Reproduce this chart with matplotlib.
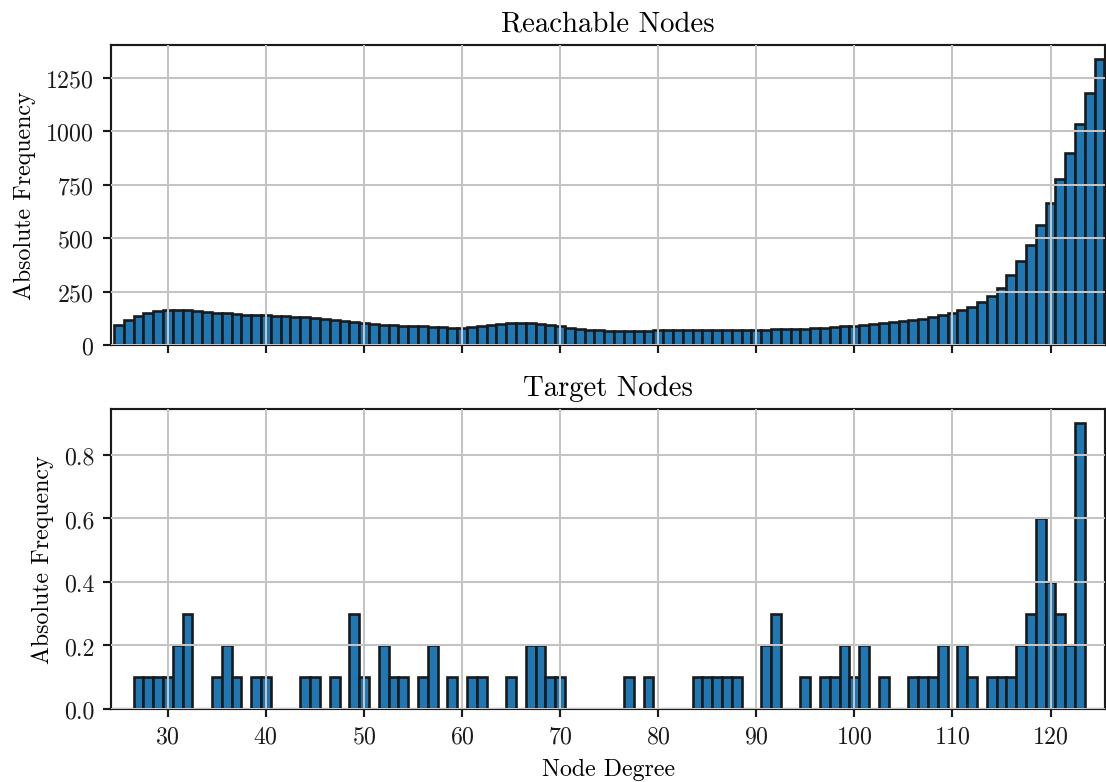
import numpy as np
import matplotlib
matplotlib.use("Agg")
import matplotlib.pyplot as plt

# ---- data ----
reach_degree = list(range(25, 126))
reach_freq = [
    92, 117, 137, 150, 158, 162, 164, 162, 159, 156,      # 25-34
    151, 148, 145, 142, 140, 139, 137, 134, 133, 130,     # 35-44
    125, 120, 116, 111, 106, 101, 98, 95, 94, 91,         # 45-54
    89, 87, 86, 83, 81, 80, 84, 89, 94, 100,              # 55-64
    103, 104, 103, 100, 95, 87, 80, 75, 72, 69,           # 65-74
    67, 66, 66, 67, 67, 69, 69, 69, 70, 70,               # 75-84
    70, 70, 71, 71, 71, 71, 72, 73, 73, 75,               # 85-94
    76, 80, 81, 84, 87, 90, 95, 98, 103, 108,             # 95-104
    114, 119, 123, 130, 140, 148, 163, 178, 200, 230,     # 105-114
    268, 326, 392, 470, 559, 662, 774, 899, 1032, 1180,   # 115-124
    1336,                                                 # 125
]

target_degree = [27, 28, 29, 30, 31, 32, 35, 36, 37, 39, 40, 44, 45, 47, 49, 50,
                 52, 53, 54, 56, 57, 59, 61, 62, 65, 67, 68, 69, 70, 77, 79,
                 84, 85, 86, 87, 88, 91, 92, 95, 97, 98, 99, 100, 101, 103,
                 106, 107, 108, 109, 111, 112, 114, 115, 116, 117, 118, 119,
                 120, 121, 122, 123]
target_freq = [0.1, 0.1, 0.1, 0.1, 0.2, 0.3, 0.1, 0.2, 0.1, 0.1, 0.1, 0.1, 0.1, 0.1, 0.3, 0.1,
               0.2, 0.1, 0.1, 0.1, 0.2, 0.1, 0.1, 0.1, 0.1, 0.2, 0.2, 0.1, 0.1, 0.1, 0.1,
               0.1, 0.1, 0.1, 0.1, 0.1, 0.2, 0.3, 0.1, 0.1, 0.1, 0.2, 0.1, 0.2, 0.1,
               0.1, 0.1, 0.1, 0.2, 0.2, 0.1, 0.1, 0.1, 0.1, 0.2, 0.3, 0.6,
               0.4, 0.3, 0.2, 0.9]

x_ticks = [30, 40, 50, 60, 70, 80, 90, 100, 110, 120]
top_yticks = [0, 250, 500, 750, 1000, 1250]
bottom_yticks = [0.0, 0.2, 0.4, 0.6, 0.8]

# ---- style ----
plt.rcParams['font.family'] = ['cmr10', 'DejaVu Serif']
plt.rcParams['axes.formatter.use_mathtext'] = True
plt.rcParams['mathtext.fontset'] = 'cm'

DPI = 172
fig, axes = plt.subplots(2, 1, sharex=True, figsize=(1106 / DPI, 783 / DPI), dpi=DPI)
fig.subplots_adjust(left=111 / 1106, right=0.9995, top=1 - 46 / 783,
                    bottom=1 - 710 / 783, hspace=0.213)

bar_color = '#1f77b4'
edge_color = '#1a1a1a'

ax1, ax2 = axes
ax1.bar(reach_degree, reach_freq, width=1.0, color=bar_color,
        edgecolor=edge_color, linewidth=1.1)
ax2.bar(target_degree, target_freq, width=1.0, color=bar_color,
        edgecolor=edge_color, linewidth=1.1)

ax1.set_title('Reachable Nodes', fontsize=12)
ax2.set_title('Target Nodes', fontsize=12)
ax1.set_ylabel('Absolute Frequency', fontsize=10)
ax2.set_ylabel('Absolute Frequency', fontsize=10)
ax2.set_xlabel('Node Degree', fontsize=10)

ax1.set_yticks(top_yticks)
ax2.set_yticks(bottom_yticks)
ax2.set_yticklabels([f'{v:.1f}' for v in bottom_yticks])
ax2.set_xticks(x_ticks)
ax2.set_xlim(24.2, 125.6)
ax1.set_ylim(0, max(reach_freq) * 1.05)
ax2.set_ylim(0, max(target_freq) * 1.05)

for ax in axes:
    ax.set_axisbelow(False)
    ax.grid(True, color='#c4c4c4', linewidth=0.85)
    for s in ax.spines.values():
        s.set_color('#1a1a1a')
        s.set_linewidth(0.9)
    ax.tick_params(axis='both', direction='out', length=3.5, width=0.9,
                   color='#1a1a1a', labelsize=10, labelcolor='#1a1a1a')

fig.savefig('out.png', dpi=DPI)
